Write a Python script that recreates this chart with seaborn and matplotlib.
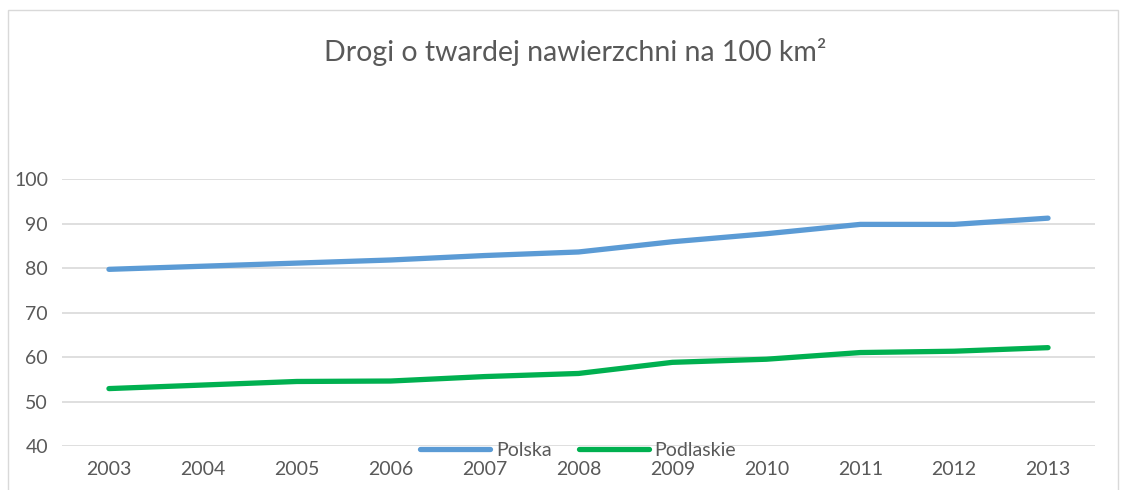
import numpy as np
import pandas as pd
import matplotlib.pyplot as plt
import seaborn as sns

years = [2003, 2004, 2005, 2006, 2007, 2008, 2009, 2010, 2011, 2012, 2013]
polska = [79.7, 80.4, 81.1, 81.8, 82.8, 83.6, 85.9, 87.7, 89.8, 89.8, 91.2]
podlaskie = [52.9, 53.7, 54.5, 54.6, 55.6, 56.3, 58.8, 59.5, 61.0, 61.3, 62.1]
series = ['Polska', 'Podlaskie']
colors = ['#5B9BD5', '#00B050']
yticks = [40, 50, 60, 70, 80, 90, 100]

df = pd.DataFrame({
    'rok': list(range(len(years))) * 2,
    'wartosc': polska + podlaskie,
    'seria': [series[0]] * len(years) + [series[1]] * len(years),
})

sns.set_style('white')
plt.rcParams['font.family'] = ['Lato', 'DejaVu Sans']
txt = '#595959'

fig = plt.figure(figsize=(11.28, 4.9), dpi=100)
ax = fig.add_axes([62 / 1128, 1 - 446 / 490, (1095 - 62) / 1128, (446 - 179) / 490])

sns.lineplot(data=df, x='rok', y='wartosc', hue='seria', palette=dict(zip(series, colors)),
             linewidth=3.8, ax=ax, legend=False, solid_capstyle='round')

ax.set_xlim(-0.5, len(years) - 0.5)
ax.set_ylim(40, 100)
ax.set_yticks(yticks)
ax.set_xticks(range(len(years)))
ax.set_xticklabels([str(y) for y in years])
ax.grid(axis='y', color='#D9D9D9', linewidth=1.2)
ax.set_axisbelow(True)
for s in ax.spines.values():
    s.set_visible(False)
ax.tick_params(axis='both', length=0, labelsize=14, labelcolor=txt)
ax.tick_params(axis='x', pad=11)
ax.tick_params(axis='y', pad=10)
ax.set_xlabel('')
ax.set_ylabel('')

fig.text(575 / 1128, 1 - 52 / 490, 'Drogi o twardej nawierzchni na 100 km²', ha='center', va='center',
         fontsize=20.5, color=txt)

# legenda na dole
handles = [plt.Line2D([], [], color=c, linewidth=3.8, solid_capstyle='round') for c in colors]
fig.legend(handles, series, loc='center', bbox_to_anchor=(578 / 1128, 1 - 450 / 490), ncol=2,
           frameon=False, fontsize=14, labelcolor=txt, handlelength=3.6, handletextpad=0.3,
           columnspacing=1.4, borderpad=0)

# ramka wykresu
border = plt.Rectangle((8 / 1128, -0.05), 1110 / 1128, 1.05 - 10 / 490, transform=fig.transFigure,
                       fill=False, edgecolor='#D9D9D9', linewidth=1)
fig.add_artist(border)

fig.savefig('out.png', dpi=100)
